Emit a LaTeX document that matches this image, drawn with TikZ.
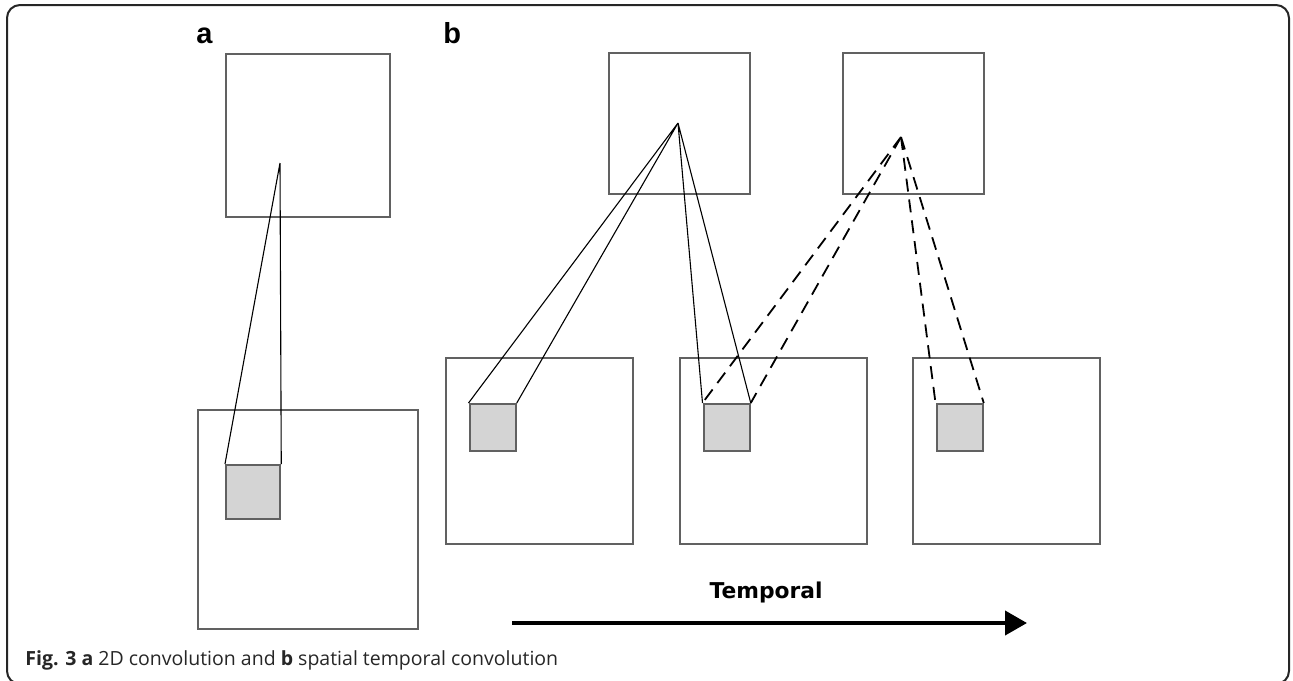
\documentclass[tikz,border=0pt]{standalone}
\usepackage{fontspec}
\setmainfont{Open Sans}
\newfontfamily\panelfont{Liberation Sans}
\newfontfamily\axisfont{DejaVu Sans}
\usetikzlibrary{arrows.meta}

\begin{document}
\begin{tikzpicture}[x=0.2mm,y=-0.2mm,>=Stealth,
  fm/.style={draw=black!62,line width=0.45mm,inner sep=0pt,anchor=north west},
  rf/.style={fm,fill=black!17},
  cn/.style={line width=0.22mm},
  dcn/.style={line width=0.36mm,dash pattern=on 2.6mm off 1.6mm},
  lbl/.style={font=\panelfont\bfseries\fontsize{16.5}{18}\selectfont,anchor=base west,inner sep=0pt}]
\useasboundingbox (0,0) rectangle (1293,680);
\clip (0,0) rectangle (1293,680);
\draw[line width=0.4mm,rounded corners=2.6mm,black!85] (7,5) rectangle (1289,684);

% a: plain 2D convolution
\node[lbl] (la) at (196,43) {a};
\node[fm,minimum width=32.8mm,minimum height=32.6mm] (atop) at (225,53) {};
\node[fm,minimum width=44mm,minimum height=43.8mm] (abot) at (197,409) {};
\node[rf,minimum size=10.8mm] (arf) at (225,464) {};
\coordinate (ap) at (280,163);
\draw[cn] (ap) -- (arf.north west) (ap) -- (arf.north east);

% b: frames along time
\node[lbl] (lb) at (443,43) {b};
\node[fm,minimum size=28.2mm] (t1) at (608,52) {};
\node[fm,minimum size=28.2mm] (t2) at (842,52) {};
\foreach \i/\x in {1/445,2/679,3/912} {
  \node[fm,minimum width=37.4mm,minimum height=37.2mm] (b\i) at (\x,357) {};
  \node[rf,minimum width=9.2mm,minimum height=9.4mm] (r\i) at (\x+23.5,403) {};
}
\coordinate (p1) at (678,123); \coordinate (p2) at (901,137);
\foreach \r in {r1,r2} \draw[cn] (p1) -- (\r.north west) (p1) -- (\r.north east);
\foreach \r in {r2,r3} \draw[dcn] (p2) -- (\r.north west) (p2) -- (\r.north east);

\coordinate (ts) at (512,623); \coordinate (te) at (1027,623);
\draw[line width=0.8mm,-{Triangle[length=4.4mm,width=4.8mm]}] (ts) -- (te);
\node[font=\axisfont\bfseries\fontsize{12.4}{14}\selectfont,anchor=base,inner sep=0pt] (tl) at (766,598) {Temporal};

\node[anchor=base west,inner sep=0pt,font=\fontsize{11.1}{13}\selectfont,text=black!85] (cap) at (25,665)
  {\textbf{Fig. 3 a} 2D convolution and \textbf{b} spatial temporal convolution};
\end{tikzpicture}
\end{document}
